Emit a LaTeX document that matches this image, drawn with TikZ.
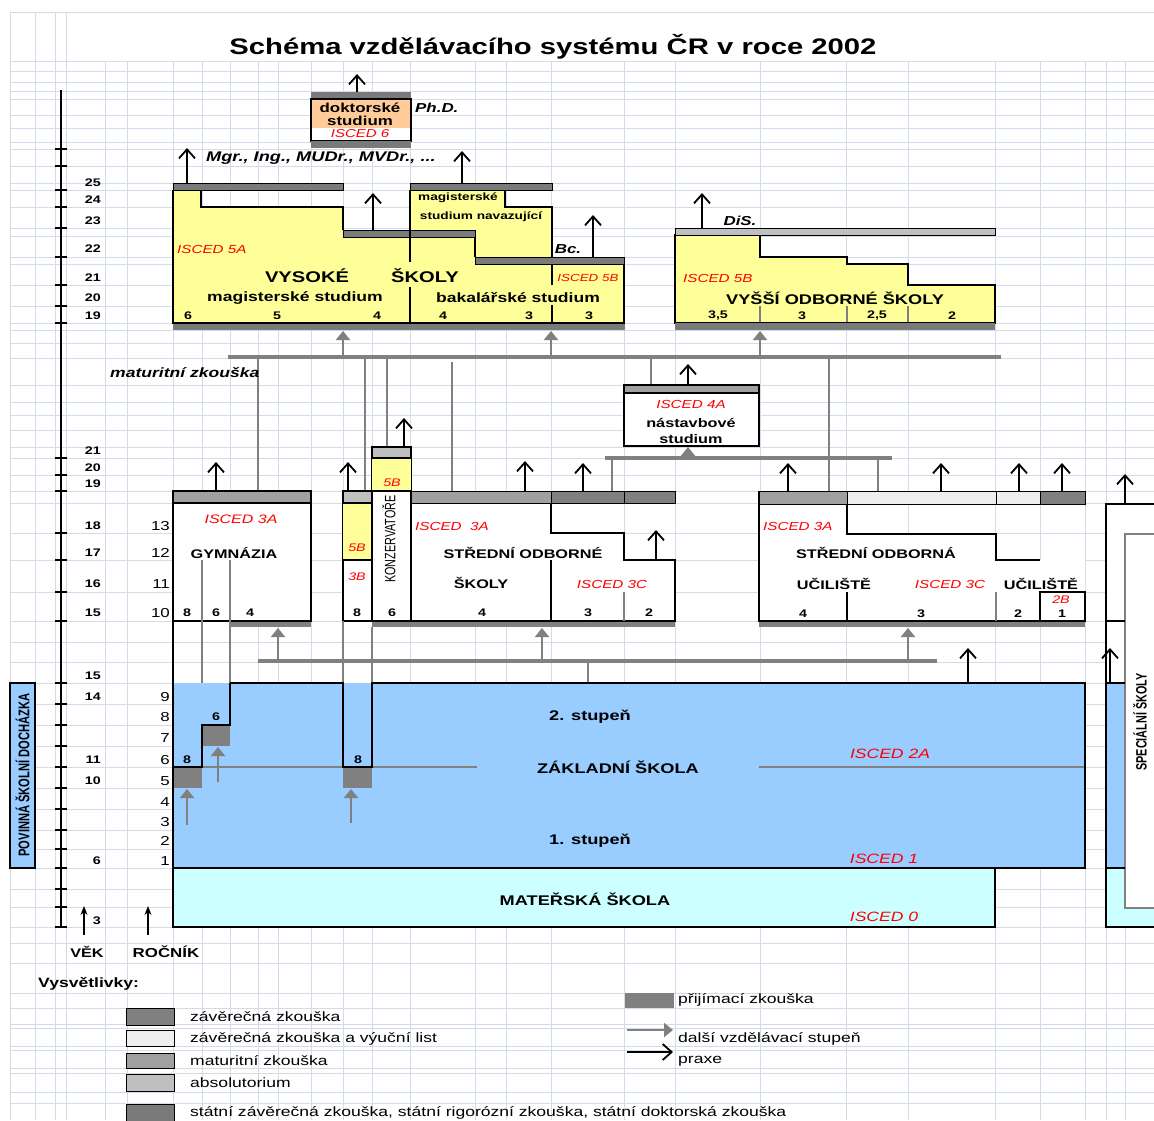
\documentclass[tikz,border=0pt]{standalone}
\usepackage{fontspec}
\setmainfont{Liberation Sans}[FakeStretch=1.3]
\newfontfamily\uzkepismo{Liberation Sans}[FakeStretch=0.72]
\usetikzlibrary{arrows.meta}

\newcommand{\pismo}[1]{\fontsize{#1}{#1}\selectfont}

\definecolor{mrizka}{HTML}{D3DBE9}
\definecolor{zaver}{HTML}{808080}
\definecolor{vyucni}{HTML}{EEEEEE}
\definecolor{matur}{HTML}{A0A0A0}
\definecolor{absol}{HTML}{C0C0C0}
\definecolor{statni}{HTML}{7A7A7A}
\definecolor{zluta}{HTML}{FFFF99}
\definecolor{oranz}{HTML}{FFCC99}
\definecolor{modra}{HTML}{99CCFF}
\definecolor{azur}{HTML}{CCFFFF}
\definecolor{cervena}{HTML}{FF0000}
\definecolor{seda}{HTML}{808080}

\tikzset{
    hrana/.style={draw=black,line width=2.2pt},
    tenka/.style={draw=black,line width=1.3pt},
    pruh/.style={draw=black,line width=1pt},
    praxe/.style={draw=black,line width=1.8pt,-{Straight Barb[length=9pt,width=16pt,line width=1.8pt]}},
    dalsi/.style={draw=seda,line width=2.5pt,-{Triangle[length=9pt,width=14pt]}},
    spoj/.style={draw=seda,line width=4pt},
    vodic/.style={draw=seda,line width=2.5pt},
    nadpis/.style={font=\bfseries\pismo{12.5},inner sep=0pt},
    velky/.style={font=\bfseries\pismo{15.5},inner sep=0pt},
    zsnadpis/.style={font=\bfseries\pismo{14},inner sep=0pt},
    cislo/.style={font=\bfseries\pismo{11},inner sep=0pt},
    isced/.style={font=\itshape\pismo{11.7},text=cervena,inner sep=0pt},
    titul/.style={font=\bfseries\itshape\pismo{13},inner sep=0pt},
    vek/.style={font=\bfseries\pismo{11},inner sep=0pt,anchor=east},
    rocnik/.style={font=\pismo{13},inner sep=0pt,anchor=east},
    popis/.style={font=\pismo{13.5},inner sep=0pt,anchor=west},
    svisle/.style={font=\uzkepismo\pismo{15},rotate=90,inner sep=0pt},
}

\begin{document}
\begin{tikzpicture}[x=1pt,y=-1pt]
    \useasboundingbox (0,0) rectangle (1154,1120);
    \fill[white] (0,0) rectangle (1154,1120);
    %% Sheet grid
    \foreach \gx in {10,35,55,66}
        \draw[mrizka,line width=1pt] (\gx,12) -- (\gx,1120);
    \foreach \gx in {105,127,173,202,230,258,278,311,343,372,410,475,506,551,624,675,760,846,908,995,1040,1085,1106,1125}
        \draw[mrizka,line width=1pt] (\gx,61) -- (\gx,1120);
    \foreach \gy in {12,61,71,82,91,99,115,128,142,149,166,183,190,207,228,236,257,264,285,306,323,330,343,358,385,402,415,430,447,458,475,491,503,533,560,592,621,642,662,683,704,725,746,767,788,809,830,849,868,889,907,927,943,963,993,1008,1024,1028,1046,1050,1068,1073,1092,1103}
        \draw[mrizka,line width=1pt] (10,\gy) -- (1154,\gy);

    %% Title
    \node[font=\bfseries\pismo{22.5}] (nadpis) at (553,47) {Schéma vzdělávacího systému ČR v roce 2002};

    %% Age axis
    \draw[line width=2pt] (61,90) -- (61,927);
    \foreach \ty in {149,166,190,207,228,257,285,306,323,458,475,491,533,560,592,621,683,704,725,746,767,788,809,830,849,868,889,907,927}
        \draw[line width=1.5pt] (55,\ty) -- (67,\ty);
    \foreach \v/\ty in {25/183,24/200,23/221,22/249,21/278,20/298,19/316,21/451,20/468,19/484,18/526,17/553,16/584,15/613,15/676,14/697,11/760,10/781,6/861,3/921}
        \node[vek] (vek\ty) at (101,\ty) {\v};
    \foreach \r/\ty in {13/526,12/553,11/584,10/613,9/697,8/717,7/738,6/760,5/781,4/802,3/822,2/841,1/861}
        \node[rocnik] (roc\ty) at (170,\ty) {\r};
    \draw[line width=1.5pt,-{Stealth[length=9pt,width=7pt]}] (84,935) -- (84,906);
    \draw[line width=1.5pt,-{Stealth[length=9pt,width=7pt]}] (148,935) -- (148,906);
    \node[font=\bfseries\pismo{12.5}] (osavek) at (87,952) {VĚK};
    \node[font=\bfseries\pismo{13}] (osaroc) at (166,952) {ROČNÍK};
    \draw[hrana,line width=1.8pt,fill=modra] (10,683) rectangle (35,868);
    \node[svisle,font=\uzkepismo\bfseries\pismo{15.5}] (povinna) at (22.5,775) {POVINNÁ ŠKOLNÍ DOCHÁZKA};

    %% Doctoral study
    \fill[statni] (311,92) rectangle (411,99);
    \fill[oranz] (311,99) rectangle (411,128);
    \fill[white] (311,128) rectangle (411,141);
    \draw[hrana] (311,99) rectangle (411,141);
    \fill[statni] (311,141) rectangle (411,148);
    \node[nadpis,font=\bfseries\pismo{13}] (dok1) at (360,108) {doktorské};
    \node[nadpis,font=\bfseries\pismo{13}] (dok2) at (360,121) {studium};
    \node[isced,font=\itshape\pismo{11.5}] (isc6) at (360,134) {ISCED 6};
    \node[titul,anchor=west] (phd) at (415,108) {Ph.D.};
    \draw[praxe] (357,92) -- (357,74);

    %% Universities
    \fill[zluta] (173,190) -- (201,190) -- (201,207) -- (343,207) -- (343,237) -- (410,237) -- (410,190)
        -- (505,190) -- (505,207) -- (552,207) -- (552,264) -- (624,264) -- (624,323) -- (173,323) -- cycle;
    \draw[pruh,fill=statni] (173,183) rectangle (343,190);
    \draw[pruh,fill=statni] (410,183) rectangle (552,190);
    \draw[pruh,fill=statni] (343,230) rectangle (475,237);
    \draw[pruh,fill=statni] (475,257) rectangle (624,264);
    \fill[statni] (173,323) rectangle (625,330);
    \draw[hrana] (201,190) -- (201,207) -- (343,207) -- (343,230);
    \draw[hrana] (173,190) -- (173,323) -- (624,323) -- (624,264);
    \draw[hrana] (475,237) -- (475,257);
    \draw[hrana] (505,190) -- (505,207) -- (552,207) -- (552,257);
    \draw[tenka] (410,190) -- (410,262) (410,287) -- (410,323);
    \draw[tenka] (552,264) -- (552,285) (552,305) -- (552,323);
    \node[isced,anchor=west] (isc5a) at (177,249) {ISCED 5A};
    \node[velky] (vs1) at (307,276) {VYSOKÉ};
    \node[velky] (vs2) at (425,276) {ŠKOLY};
    \node[nadpis,font=\bfseries\pismo{13.5}] (magst) at (295,298) {magisterské studium};
    \node[nadpis,font=\bfseries\pismo{13.5}] (bakst) at (518,298) {bakalářské studium};
    \node[isced,font=\itshape\pismo{10.3}] (isc5bv) at (588,278) {ISCED 5B};
    \node[nadpis,font=\bfseries\pismo{10.5}] (nav1) at (458,198) {magisterské};
    \node[nadpis,font=\bfseries\pismo{10.5}] (nav2) at (481,217) {studium navazující};
    \node[titul] (bc) at (568,249) {Bc.};
    \node[titul,anchor=west,font=\bfseries\itshape\pismo{14}] (mgr) at (206,158) {Mgr., Ing., MUDr., MVDr., ...};
    \foreach \n/\x in {6/188,5/277,4/377,4/443,3/529,3/589}
        \node[cislo] (vsr\x) at (\x,316) {\n};
    \draw[praxe] (187,183) -- (187,148);
    \draw[praxe] (462,183) -- (462,151);
    \draw[praxe] (373,230) -- (373,193);
    \draw[praxe] (593,257) -- (593,215);

    %% Higher vocational schools
    \fill[zluta] (675,235) -- (760,235) -- (760,257) -- (847,257) -- (847,264) -- (908,264) -- (908,285)
        -- (995,285) -- (995,323) -- (675,323) -- cycle;
    \draw[hrana] (675,235) -- (760,235) -- (760,257) -- (847,257) -- (847,264) -- (908,264) -- (908,285)
        -- (995,285) -- (995,323) -- (675,323) -- cycle;
    \draw[pruh,fill=absol] (675,228) rectangle (995,235);
    \fill[statni] (675,323) rectangle (995,330);
    \foreach \x in {760,847,908}
        \draw[seda,line width=1.5pt] (\x,306) -- (\x,322);
    \node[isced,anchor=west] (isc5b) at (683,278) {ISCED 5B};
    \node[nadpis,font=\bfseries\pismo{14}] (vos) at (835,298) {VYŠŠÍ ODBORNÉ ŠKOLY};
    \foreach \n/\x in {{3,5}/718,3/802,{2,5}/877,2/952}
        \node[cislo] (vosr\x) at (\x,316) {\n};
    \node[titul] (dis) at (740,221) {DiS.};
    \draw[praxe] (702,228) -- (702,193);

    %% Upper links
    \draw[spoj] (228,357) -- (1001,357);
    \foreach \x in {343,551,760}
        \draw[dalsi] (\x,357) -- (\x,331);
    \draw[vodic] (258,357) -- (258,491);
    \draw[vodic] (365,357) -- (365,491);
    \draw[vodic,line width=2pt] (387,357) -- (387,447);
    \draw[vodic] (452,362) -- (452,491);
    \draw[vodic] (651,357) -- (651,385);
    \draw[vodic] (829,357) -- (829,491);
    \node[titul,anchor=west,font=\bfseries\itshape\pismo{13.5}] (matzk) at (110,373) {maturitní zkouška};

    %% Follow-up study
    \draw[hrana,fill=white] (624,393) rectangle (759,446);
    \draw[hrana,line width=1.8pt,fill=matur] (624,385) rectangle (759,393);
    \node[isced] (isc4a) at (691,404) {ISCED 4A};
    \node[nadpis] (nast1) at (691,423) {nástavbové};
    \node[nadpis] (nast2) at (691,439) {studium};
    \draw[praxe] (688,385) -- (688,364);
    \draw[spoj] (605,458) -- (892,458);
    \draw[dalsi] (688,459) -- (688,447);
    \draw[vodic] (612,458) -- (612,491);
    \draw[vodic] (878,458) -- (878,491);

    %% Grammar schools
    \draw[hrana,fill=white] (173,491) rectangle (311,621);
    \draw[hrana,fill=matur] (173,491) rectangle (311,503);
    \fill[zaver] (230,622) rectangle (311,627);
    \draw[vodic,line width=2pt] (202,560) -- (202,725);
    \draw[vodic,line width=2pt] (230,560) -- (230,683);
    \node[isced,font=\itshape\pismo{12.3}] (isc3ag) at (241,519) {ISCED 3A};
    \node[nadpis] (gym) at (234,553) {GYMNÁZIA};
    \foreach \n/\x in {8/187,6/216,4/250}
        \node[cislo] (gymr\x) at (\x,613) {\n};
    \draw[praxe] (216,491) -- (216,462);

    %% Conservatories
    \draw[hrana,fill=white] (343,491) rectangle (372,621);
    \fill[zluta] (343,503) rectangle (372,560);
    \draw[tenka] (343,560) -- (372,560);
    \draw[hrana,line width=1.8pt,fill=absol] (343,491) rectangle (372,503);
    \draw[hrana,fill=white] (372,458) rectangle (411,621);
    \fill[zluta] (372,458) rectangle (411,491);
    \draw[tenka] (372,491) -- (411,491);
    \draw[hrana,line width=1.8pt,fill=absol] (372,447) rectangle (411,458);
    \node[isced,font=\itshape\pismo{11}] (k8a) at (357,548) {5B};
    \node[isced,font=\itshape\pismo{11}] (k8b) at (357,577) {3B};
    \node[isced,font=\itshape\pismo{11}] (k6a) at (392,483) {5B};
    \node[svisle] (konz) at (389,539) {KONZERVATOŘE};
    \node[cislo] (k8r) at (357,613) {8};
    \node[cislo] (k6r) at (392,613) {6};
    \draw[praxe] (348,491) -- (348,462);
    \draw[praxe] (404,447) -- (404,418);
    \draw[seda,line width=1.5pt] (343,621) -- (343,683) (372,627) -- (372,683);

    %% Secondary technical schools
    \draw[hrana,fill=white] (411,503) -- (551,503) -- (551,533) -- (624,533) -- (624,560) -- (675,560)
        -- (675,621) -- (411,621) -- cycle;
    \draw[pruh,fill=matur] (411,491) rectangle (551,503);
    \draw[pruh,fill=zaver] (551,491) rectangle (624,503);
    \draw[pruh,fill=zaver] (624,491) rectangle (675,503);
    \draw[tenka] (551,560) -- (551,621);
    \draw[seda,line width=1.3pt] (624,592) -- (624,621);
    \fill[zaver] (372,622) rectangle (675,627);
    \node[isced,anchor=west] (isc3as) at (415,526) {ISCED \ 3A};
    \node[nadpis] (sos1) at (523,553) {STŘEDNÍ ODBORNÉ};
    \node[nadpis] (sos2) at (481,583) {ŠKOLY};
    \node[isced] (isc3cs) at (612,584) {ISCED 3C};
    \foreach \n/\x in {4/482,3/588,2/649}
        \node[cislo] (sosr\x) at (\x,613) {\n};
    \draw[praxe] (525,491) -- (525,461);
    \draw[praxe] (583,491) -- (583,463);
    \draw[praxe] (656,560) -- (656,530);

    %% Secondary vocational schools
    \fill[white] (759,504) -- (847,504) -- (847,534) -- (996,534) -- (996,560) -- (1085,560) -- (1085,621)
        -- (759,621) -- cycle;
    \draw[hrana] (847,504) -- (847,534) -- (996,534) -- (996,560) -- (1040,560);
    \draw[hrana] (759,491) -- (759,621) -- (1085,621) -- (1085,592) -- (1040,592) -- (1040,621);
    \draw[pruh,fill=matur] (759,491) rectangle (847,504);
    \draw[pruh,fill=vyucni] (847,491) rectangle (996,504);
    \draw[pruh,fill=vyucni] (996,491) rectangle (1040,504);
    \draw[pruh,fill=zaver] (1040,491) rectangle (1085,504);
    \draw[tenka] (847,592) -- (847,621);
    \draw[seda,line width=1.3pt] (996,592) -- (996,621);
    \fill[zaver] (759,622) rectangle (1085,627);
    \node[isced,anchor=west] (isc3au) at (763,526) {ISCED 3A};
    \node[nadpis] (sou1) at (876,553) {STŘEDNÍ ODBORNÁ};
    \node[nadpis] (sou2) at (834,584) {UČILIŠTĚ};
    \node[isced] (isc3cu) at (950,584) {ISCED 3C};
    \node[nadpis] (sou3) at (1041,584) {UČILIŠTĚ};
    \node[isced,font=\itshape\pismo{11}] (isc2b) at (1061,600) {2B};
    \foreach \n/\x in {4/803,3/921,2/1018,1/1062}
        \node[cislo] (sour\x) at (\x,614) {\n};
    \foreach \x in {788,941,1019,1062}
        \draw[praxe] (\x,491) -- (\x,463);

    %% Special schools
    \fill[white] (1106,504) rectangle (1154,927);
    \fill[modra] (1106,683) rectangle (1125,868);
    \fill[azur] (1106,868) rectangle (1125,927);
    \fill[azur] (1125,908) rectangle (1154,927);
    \draw[seda,line width=1.5pt] (1154,534) -- (1125,534) -- (1125,908) -- (1154,908);
    \draw[hrana] (1154,504) -- (1106,504) -- (1106,927) -- (1154,927);
    \draw[hrana] (1106,621) -- (1125,621) (1106,683) -- (1125,683) (1106,868) -- (1125,868);
    \node[svisle,font=\uzkepismo\bfseries\pismo{15}] (spec) at (1140,722) {SPECIÁLNÍ ŠKOLY};
    \draw[praxe] (1125,504) -- (1125,474);
    \draw[praxe] (1110,683) -- (1110,648);

    %% Lower links
    \draw[spoj] (258,661) -- (937,661);
    \draw[vodic] (588,661) -- (588,683);
    \foreach \x in {278,542,908}
        \draw[dalsi] (\x,661) -- (\x,628);

    %% Basic school
    \fill[modra] (173,683) rectangle (1085,868);
    \fill[zaver] (173,767) rectangle (202,788);
    \fill[zaver] (202,725) rectangle (230,746);
    \fill[zaver] (343,767) rectangle (372,788);
    \draw[seda,line width=2pt] (202,767) -- (477,767) (759,767) -- (1085,767);
    \draw[hrana] (230,683) -- (343,683) -- (343,767) -- (372,767) -- (372,683) -- (1085,683) -- (1085,868) -- (173,868);
    \draw[hrana] (173,621) -- (173,868);
    \draw[hrana] (173,767) -- (202,767) -- (202,725) -- (230,725) -- (230,683);
    \node[cislo] (zs8a) at (187,760) {8};
    \node[cislo] (zs6) at (216,717) {6};
    \node[cislo] (zs8b) at (358,760) {8};
    \draw[dalsi,line width=2pt] (187,825) -- (187,789);
    \draw[dalsi,line width=2pt] (218,782) -- (218,747);
    \draw[dalsi,line width=2pt] (351,823) -- (351,789);
    \draw[praxe] (968,683) -- (968,648);
    \node[zsnadpis] (stup2) at (590,717) {2. stupeň};
    \node[zsnadpis] (zs) at (618,767) {ZÁKLADNÍ ŠKOLA};
    \node[isced,font=\itshape\pismo{13.5}] (isc2a) at (890,754) {ISCED 2A};
    \node[zsnadpis] (stup1) at (590,841) {1. stupeň};
    \node[isced,font=\itshape\pismo{13.5}] (isc1) at (884,859) {ISCED 1};

    %% Nursery school
    \draw[hrana,fill=azur] (173,868) rectangle (995,927);
    \node[zsnadpis] (ms) at (585,899) {MATEŘSKÁ ŠKOLA};
    \node[isced,font=\itshape\pismo{13.5}] (isc0) at (884,917) {ISCED 0};

    %% Legend
    \node[font=\bfseries\pismo{13.5},anchor=west,inner sep=0pt] (vysv) at (38,984) {Vysvětlivky:};
    \draw[pruh,fill=zaver] (126,1008) rectangle (174,1025);
    \draw[pruh,fill=vyucni] (126,1030) rectangle (174,1046);
    \draw[pruh,fill=matur] (126,1053) rectangle (174,1068);
    \draw[pruh,fill=absol] (126,1074) rectangle (174,1091);
    \draw[pruh,fill=statni] (126,1104) rectangle (174,1124);
    \node[popis] (leg1) at (190,1017) {závěrečná zkouška};
    \node[popis] (leg2) at (190,1039) {závěrečná zkouška a výuční list};
    \node[popis] (leg3) at (190,1061) {maturitní zkouška};
    \node[popis] (leg4) at (190,1083) {absolutorium};
    \node[popis] (leg5) at (190,1113) {státní závěrečná zkouška, státní rigorózní zkouška, státní doktorská zkouška};
    \fill[zaver] (625,993) rectangle (674,1008);
    \node[popis] (leg6) at (678,1000) {přijímací zkouška};
    \draw[dalsi,line width=2pt] (627,1030) -- (673,1030);
    \node[popis] (leg7) at (678,1039) {další vzdělávací stupeň};
    \draw[praxe,line width=1.4pt] (627,1052) -- (673,1052);
    \node[popis] (leg8) at (678,1061) {praxe};
\end{tikzpicture}
\end{document}
